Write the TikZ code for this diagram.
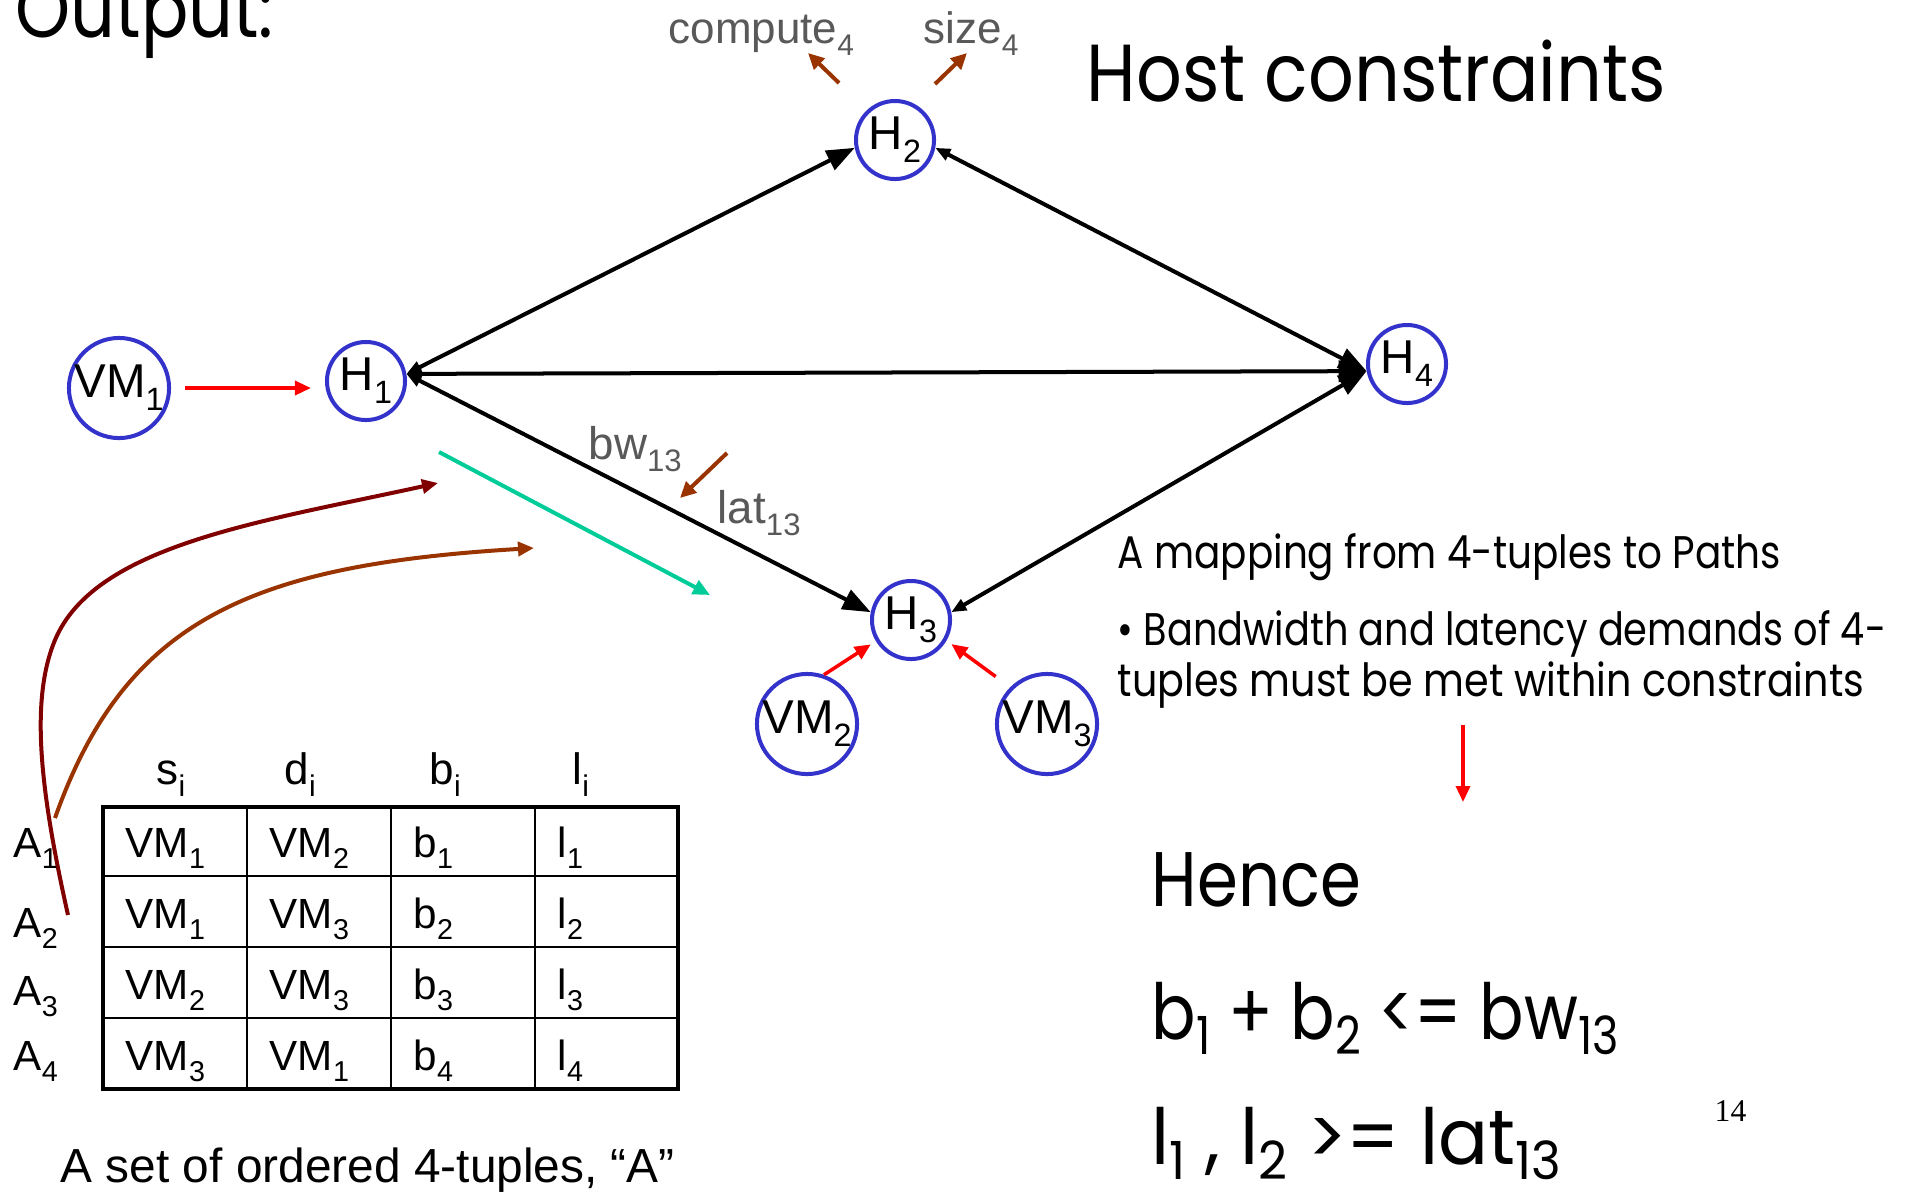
\documentclass[tikz,border=0pt]{standalone}
\usepackage{fontspec}
\usepackage{graphicx}
\setmainfont{Liberation Sans}
\newfontfamily\comicf{Poppins}
\newfontfamily\timesf{Liberation Serif}
\usetikzlibrary{arrows.meta}

\definecolor{ringblue}{RGB}{51,51,204}
\definecolor{labgrey}{RGB}{89,89,89}
\definecolor{rust}{RGB}{153,51,0}
\definecolor{maroonc}{RGB}{128,0,0}
\definecolor{tealc}{RGB}{0,204,153}
\definecolor{redc}{RGB}{255,0,0}

% set a line of text to a given width, keeping its natural height
\newcommand\fitto[2]{\resizebox{#1}{\height}{#2}}
\newcommand\fsz[1]{\fontsize{#1}{#1}\selectfont}
% lowered, reduced index
\newcommand\sbs[1]{\raisebox{-0.28em}{\scalebox{0.68}{#1}}}
% index for the handwritten-style formulas
\newcommand\csbs[1]{\raisebox{-0.2em}{\scalebox{0.68}{#1}}}

\begin{document}
\begin{tikzpicture}[x=0.01cm,y=-0.01cm,
  BigHead/.tip={Triangle[length=2.8mm,width=2.1mm]},
  SmallHead/.tip={Triangle[length=1.5mm,width=1.2mm]},
  host/.style={circle, draw=ringblue, line width=0.4mm, minimum size=0.78cm,
    inner sep=0pt, font=\fsz{13.5}},
  vm/.style={host, minimum size=0.94cm},
  link/.style={line width=0.4mm, draw=black, SmallHead-BigHead},
  redarrow/.style={draw=redc, line width=0.35mm, -{Triangle[length=1.6mm,width=1.4mm]}},
  rustarrow/.style={draw=rust, line width=0.4mm, -{Triangle[length=1.6mm,width=1.5mm]}},
  txt/.style={inner sep=0pt, anchor=base west},
  greylab/.style={txt, text=labgrey, font=\fsz{12.5}},
  cell/.style={txt, font=\fsz{12}},
  comic/.style={txt},
]
\useasboundingbox (0,0) rectangle (1906,1196);

% ---------------- graph of hosts and VMs ----------------
\node[vm]   (VM1) at (119,388)  {VM\sbs{1}};
\node[host] (H1)  at (366,381)  {H\sbs{1}};
\node[host] (H2)  at (895,140)  {H\sbs{2}};
\node[host] (H4)  at (1407,364) {H\sbs{4}};
\node[host] (H3)  at (911,620)  {H\sbs{3}};
\node[vm]   (VM2) at (807,724)  {VM\sbs{2}};
\node[vm]   (VM3) at (1047,724) {VM\sbs{3}};

\draw[link] (H1.10)  -- (H2.191);
\draw[link] (H1.10)  -- (H4.190);
\draw[link] (H1.10)  -- (H3.169);
\draw[link] (H2.-11) -- (H4.190);
\draw[link] (H3.11)  -- (H4.190);

% VM placements
\draw[redarrow, shorten <=1.4mm, shorten >=1.4mm] (VM1.east) -- (VM1.east -| H1.west);
\draw[redarrow, shorten >=0.6mm] (VM2.71) -- (H3.211);
\draw[redarrow, shorten <=1.8mm, shorten >=0.6mm] (VM3.135) -- (H3.-30);

% host and link attributes
\node[greylab] (cmp) at (668,43) {compute\sbs{4}};
\node[greylab] (siz) at (923,43) {size\sbs{4}};
\node[greylab, font=\fsz{13}] (bw)  at (588,459) {bw\sbs{13}};
\node[greylab, font=\fsz{13}] (lat) at (717,523) {lat\sbs{13}};

\coordinate (cmpS) at (839,83);  \coordinate (cmpT) at (808,53);
\coordinate (sizS) at (935,84);  \coordinate (sizT) at (967,53);
\coordinate (bwS)  at (727,453); \coordinate (bwT)  at (680,498);
\draw[rustarrow] (cmpS) -- (cmpT);
\draw[rustarrow] (sizS) -- (sizT);
\draw[rustarrow] (bwS) -- (bwT);

% path of a tuple along H1 -> H3
\coordinate (pathS) at (439,452); \coordinate (pathT) at (710,595);
\draw[draw=tealc, line width=0.4mm, -{Triangle[length=1.7mm,width=1.5mm]}] (pathS) -- (pathT);

% tuples A1 and A2 mapped onto the path
\coordinate (a2S) at (68,915);  \coordinate (a2T) at (438,483);
\coordinate (a1S) at (55,818);  \coordinate (a1T) at (534,548);
\draw[draw=maroonc, line width=0.4mm, -{Triangle[length=1.6mm,width=1.4mm]}]
  (a2S) .. controls (40,790) and (30,700) .. (55,640)
        .. controls (95,545) and (260,522) .. (a2T);
\draw[draw=rust, line width=0.4mm, -{Triangle[length=1.6mm,width=1.4mm]}]
  (a1S) .. controls (125,620) and (250,565) .. (a1T);

% ---------------- table of 4-tuples ----------------
\draw[line width=0.2mm] (247,807) -- (247,1089) (391,807) -- (391,1089) (535,807) -- (535,1089);
\draw[line width=0.2mm] (103,876) -- (678,876) (103,947) -- (678,947) (103,1018) -- (678,1018);
\draw[line width=0.45mm] (103,807) rectangle (678,1089);

\node[cell, font=\fsz{12.5}] (hs) at (156,784) {s\sbs{i}};
\node[cell, font=\fsz{12.5}] (hd) at (284,784) {d\sbs{i}};
\node[cell, font=\fsz{12.5}] (hb) at (429,784) {b\sbs{i}};
\node[cell, font=\fsz{12.5}] (hl) at (572,784) {l\sbs{i}};

\node[cell] (A1) at (13,857)  {A\sbs{1}};
\node[cell] (A2) at (13,937)  {A\sbs{2}};
\node[cell] (A3) at (13,1005) {A\sbs{3}};
\node[cell] (A4) at (13,1070) {A\sbs{4}};

\node[cell] (c11) at (125,857) {VM\sbs{1}};
\node[cell] (c12) at (269,857) {VM\sbs{2}};
\node[cell] (c13) at (413,857) {b\sbs{1}};
\node[cell] (c14) at (557,857) {l\sbs{1}};
\node[cell] (c21) at (125,928) {VM\sbs{1}};
\node[cell] (c22) at (269,928) {VM\sbs{3}};
\node[cell] (c23) at (413,928) {b\sbs{2}};
\node[cell] (c24) at (557,928) {l\sbs{2}};
\node[cell] (c31) at (125,999) {VM\sbs{2}};
\node[cell] (c32) at (269,999) {VM\sbs{3}};
\node[cell] (c33) at (413,999) {b\sbs{3}};
\node[cell] (c34) at (557,999) {l\sbs{3}};
\node[cell] (c41) at (125,1070) {VM\sbs{3}};
\node[cell] (c42) at (269,1070) {VM\sbs{1}};
\node[cell] (c43) at (413,1070) {b\sbs{4}};
\node[cell] (c44) at (557,1070) {l\sbs{4}};

\node[txt, font=\fsz{13.6}] (cap) at (60,1182) {A set of ordered 4-tuples, “A”};

% ---------------- headings and notes ----------------
\node[comic] (out)  at (15,37)   {\fitto{2.58cm}{\comicf\fsz{23}Output:}};
\node[comic] (host) at (1086,101) {\fitto{5.79cm}{\comicf\fsz{23}Host constraints}};
\node[comic] (map)  at (1117,568) {\fitto{6.63cm}{\comicf\fsz{13}A mapping from 4-tuples to Paths}};
\node[comic] (bw1)  at (1117,645) {\fitto{7.68cm}{\comicf\fsz{13}\textbullet{} Bandwidth and latency demands of 4-}};
\node[comic] (bw2)  at (1117,696) {\fitto{7.46cm}{\comicf\fsz{13}tuples must be met within constraints}};

\coordinate (thS) at (1463,725); \coordinate (thT) at (1463,802);
\draw[redarrow] (thS) -- (thT);

\node[comic] (hence) at (1151,906)  {\fitto{2.09cm}{\comicf\fsz{22}Hence}};
\node[comic] (eq1)   at (1151,1039) {\fitto{4.67cm}{\comicf\fsz{22}b\csbs{1} + b\csbs{2} <= bw\csbs{13}}};
\node[comic] (eq2)   at (1151,1164) {\fitto{4.09cm}{\comicf\fsz{22}l\csbs{1} , l\csbs{2} >= lat\csbs{13}}};

\node[txt, font=\timesf\fsz{9}] (pg) at (1714,1121) {14};
\end{tikzpicture}
\end{document}
